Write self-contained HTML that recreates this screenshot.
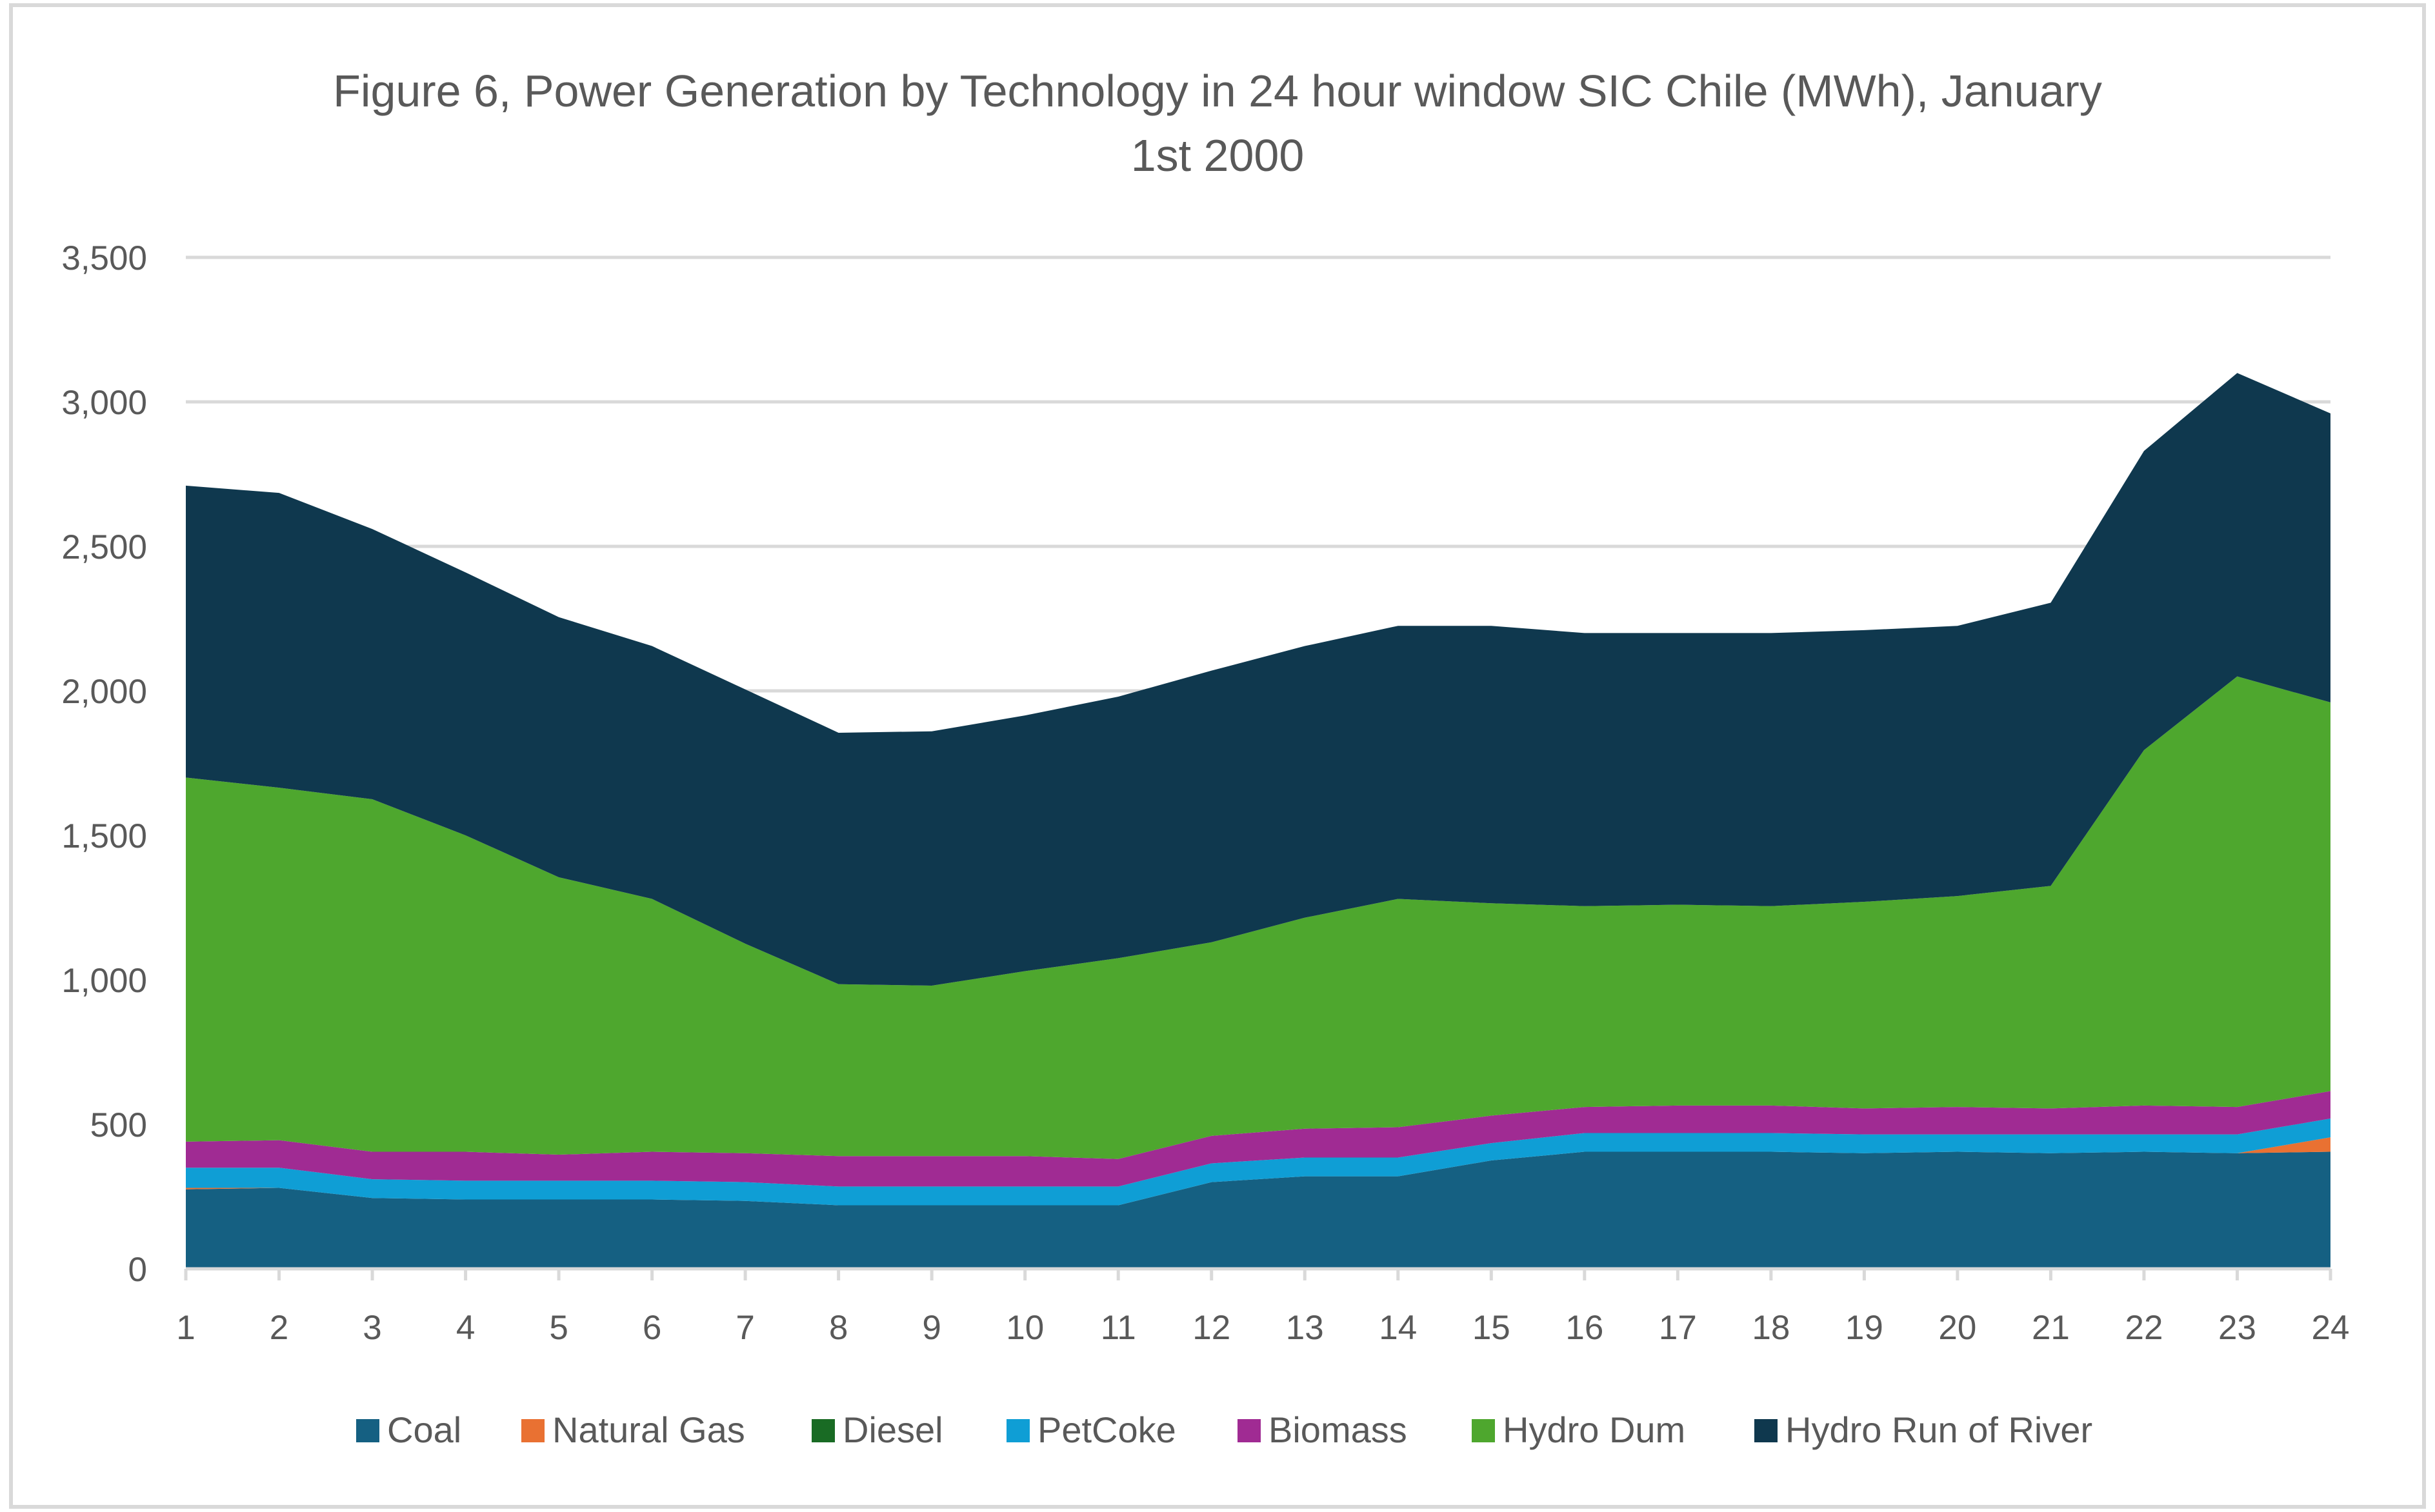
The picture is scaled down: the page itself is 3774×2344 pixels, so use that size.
<!DOCTYPE html>
<html><head><meta charset="utf-8"><style>
body{margin:0;background:#fff}
svg{display:block;font-family:"Liberation Sans",sans-serif}
</style></head><body>
<svg id="chart" width="3774" height="2344" viewBox="0 0 3774 2344">
<rect x="17" y="8" width="3740" height="2328" fill="#fff" stroke="#d9d9d9" stroke-width="6"/>
<text x="1887" y="165" text-anchor="middle" font-size="70" fill="#595959">Figure 6, Power Generation by Technology in 24 hour window SIC Chile (MWh), January</text>
<text x="1887" y="265" text-anchor="middle" font-size="70" fill="#595959">1st 2000</text>
<g id="grid"></g><g id="areas"></g><g id="axes"></g><g id="legend"></g>
</svg>
<script>
const hours=["1","2","3","4","5","6","7","8","9","10","11","12","13","14","15","16","17","18","19","20","21","22","23","24"];
const yTicks=[0,500,1000,1500,2000,2500,3000,3500];
const seriesNames=["Coal","Natural Gas","Diesel","PetCoke","Biomass","Hydro Dum","Hydro Run of River"];
const coal=[275,280,245,240,240,240,235,220,220,220,220,300,320,320,375,405,405,405,400,405,400,405,400,405];
const naturalGas=[5,0,0,0,0,0,0,0,0,0,0,0,0,0,0,0,0,0,0,0,0,0,0,50];
const diesel=[0,0,0,0,0,0,0,0,0,0,0,0,0,0,0,0,0,0,0,0,0,0,0,0];
const petCoke=[70,70,65,65,65,65,65,65,65,65,65,65,65,65,60,65,65,65,65,60,65,60,65,65];
const biomass=[90,95,95,100,90,100,100,105,105,105,95,95,100,105,95,90,95,95,90,95,90,100,95,95];
const hydroDam=[1260,1220,1220,1095,960,875,725,595,590,640,695,670,730,790,735,695,695,690,715,730,770,1230,1490,1345];
const hydroRoR=[1010,1020,935,910,900,875,880,870,880,885,905,940,940,945,960,945,940,945,940,935,980,1035,1050,1000];
const colors=["#156082","#E97132","#196B24","#0F9ED5","#A02B93","#4EA72E","#0F384E"];
const series=[coal,naturalGas,diesel,petCoke,biomass,hydroDam,hydroRoR];
const L=288,R=3612,T=399,B=1967,maxV=3500;
const x=i=>L+(R-L)*i/(hours.length-1);
const y=v=>B-(B-T)*v/maxV;
const NS="http://www.w3.org/2000/svg";
function mk(tag,attrs,parent){const e=document.createElementNS(NS,tag);for(const k in attrs)e.setAttribute(k,attrs[k]);parent.appendChild(e);return e;}
const grid=document.getElementById('grid'),areas=document.getElementById('areas'),axes=document.getElementById('axes'),legend=document.getElementById('legend');
yTicks.forEach(t=>{
  if(t>0){const g=mk('line',{x1:L,x2:R,y1:y(t),y2:y(t),stroke:'#d9d9d9','stroke-width':5},grid);
  
  }
  const tx=mk('text',{x:228,y:y(t)+19,'text-anchor':'end','font-size':53,fill:'#595959'},axes);
  tx.textContent=t.toLocaleString('en-US');
  
  
});
let base=hours.map(()=>0);
series.forEach((s,k)=>{
  const top=base.map((b,i)=>b+s[i]);
  let d='M'+top.map((v,i)=>x(i)+','+y(v)).join(' L');
  for(let i=hours.length-1;i>=0;i--)d+=' L'+x(i)+','+y(base[i]);
  const p=mk('path',{d:d+'Z',fill:colors[k]},areas);
  
  
  base=top;
});
const ax=mk('line',{x1:L,x2:R,y1:B,y2:B,stroke:'#d9d9d9','stroke-width':5},axes);


hours.forEach((h,i)=>{
  const tk=mk('line',{x1:x(i),x2:x(i),y1:B,y2:B+18,stroke:'#d9d9d9','stroke-width':5},axes);
  
  
  const tx=mk('text',{x:x(i),y:2076,'text-anchor':'middle','font-size':53,fill:'#595959'},axes);
  tx.textContent=h;
  
  
});
const lx=[552,808,1258,1560,1918,2281,2719];
seriesNames.forEach((n,k)=>{
  const r=mk('rect',{x:lx[k],y:2200,width:36,height:36,fill:colors[k]},legend);
  
  
  const t=mk('text',{x:lx[k]+48,y:2236,'font-size':56,fill:'#595959'},legend);
  t.textContent=n;
  
  
});
</script>
</body></html>
